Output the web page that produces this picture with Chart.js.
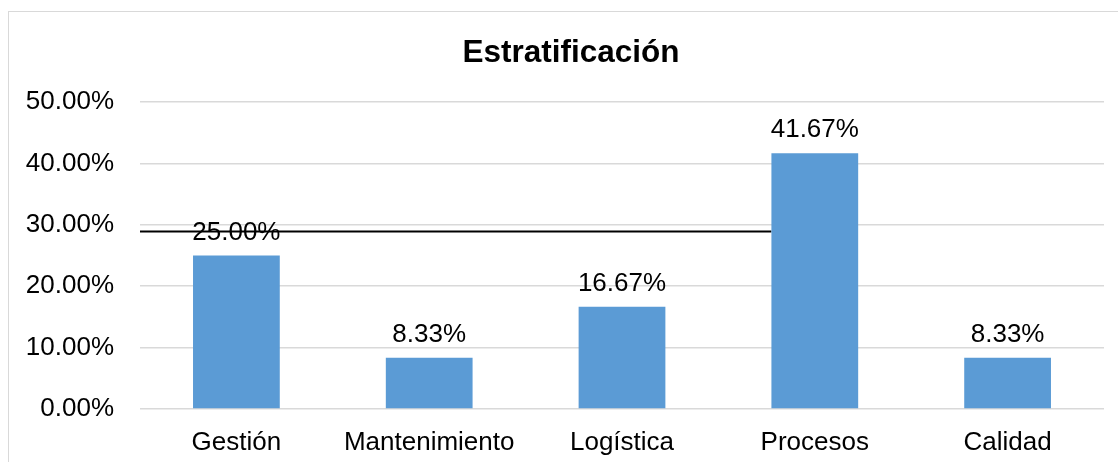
<!DOCTYPE html>
<html>
<head>
<meta charset="utf-8">
<script src="https://cdn.jsdelivr.net/npm/chart.js@4.4.1/dist/chart.umd.min.js"></script>
<style>
    html, body { margin: 0; padding: 0; background: #fff; overflow: hidden; }
    #frame {
        position: absolute; left: 8px; top: 11px;
        width: 1300px; height: 700px;
        border: 1px solid #d9d9d9;
    }
    #wrap { position: absolute; left: 0; top: 0; width: 1118px; height: 462px; }
</style>
</head>
<body>
<div id="frame"></div>
<div id="wrap"><canvas id="chart"></canvas></div>
<script>
// Estratificación data
const categories = ['Gestión', 'Mantenimiento', 'Logística', 'Procesos', 'Calidad'];
const shares = [0.25, 0.0833, 0.1667, 0.4167, 0.0833];
const yTicks = [0, 0.1, 0.2, 0.3, 0.4, 0.5];
const chartTitle = 'Estratificación';

// horizontal black rule, from the left of the plot up to the Procesos bar
const ruleValue = 0.289;
const ruleEndIndex = 3;

const FONT = 'Liberation Sans, Arial, sans-serif';

const pct = v => (v * 100).toFixed(2) + '%';

// Title centred on the framed box rather than on the canvas
const titlePlugin = {
    id: 'boxTitle',
    afterDraw(chart) {
        const { ctx } = chart;
        ctx.save();
        ctx.font = 'bold 31.5px ' + FONT;
        ctx.fillStyle = '#000';
        ctx.textAlign = 'center';
        ctx.textBaseline = 'alphabetic';
        ctx.fillText(chartTitle, 571, 62);
        ctx.restore();
    }
};

// Black rule drawn under the bars
const rulePlugin = {
    id: 'rule',
    beforeDatasetsDraw(chart) {
        const { ctx, chartArea, scales } = chart;
        const bar = chart.getDatasetMeta(0).data[ruleEndIndex];
        const y = scales.y.getPixelForValue(ruleValue);
        ctx.save();
        ctx.strokeStyle = '#000';
        ctx.lineWidth = 2;
        ctx.beginPath();
        ctx.moveTo(chartArea.left, y);
        ctx.lineTo(bar.x - bar.width / 2, y);
        ctx.stroke();
        ctx.restore();
    }
};

// Value labels over each bar
const valueLabels = {
    id: 'valueLabels',
    afterDatasetsDraw(chart) {
        const { ctx } = chart;
        const meta = chart.getDatasetMeta(0);
        ctx.save();
        ctx.font = '26px ' + FONT;
        ctx.fillStyle = '#000';
        ctx.textAlign = 'center';
        ctx.textBaseline = 'alphabetic';
        meta.data.forEach((bar, i) => {
            ctx.fillText(pct(shares[i]), bar.x, bar.y - 16);
        });
        ctx.restore();
    }
};

new Chart(document.getElementById('chart').getContext('2d'), {
    type: 'bar',
    data: {
        labels: categories,
        datasets: [{
            data: shares,
            backgroundColor: '#5b9bd5',
            borderWidth: 0,
            categoryPercentage: 1,
            barPercentage: 0.45
        }]
    },
    options: {
        responsive: true,
        maintainAspectRatio: false,
        animation: false,
        layout: { padding: { left: 0, right: 14, top: 102, bottom: 0 } },
        plugins: {
            legend: { display: false },
            tooltip: { enabled: false },
            title: { display: false }
        },
        scales: {
            x: {
                grid: { display: false },
                border: { display: false },
                ticks: {
                    color: '#000',
                    padding: 10,
                    font: { family: FONT, size: 26 }
                },
                afterFit(scale) { scale.height = 53; }
            },
            y: {
                min: 0,
                max: 0.5,
                afterBuildTicks(scale) { scale.ticks = yTicks.map(v => ({ value: v })); },
                grid: { color: '#d9d9d9', lineWidth: 1.5, drawTicks: false },
                border: { display: false },
                ticks: {
                    color: '#000',
                    padding: 26,
                    font: { family: FONT, size: 26 },
                    callback: v => pct(v)
                },
                afterFit(scale) { scale.width = 140; }
            }
        }
    },
    plugins: [titlePlugin, rulePlugin, valueLabels]
});
</script>
</body>
</html>
